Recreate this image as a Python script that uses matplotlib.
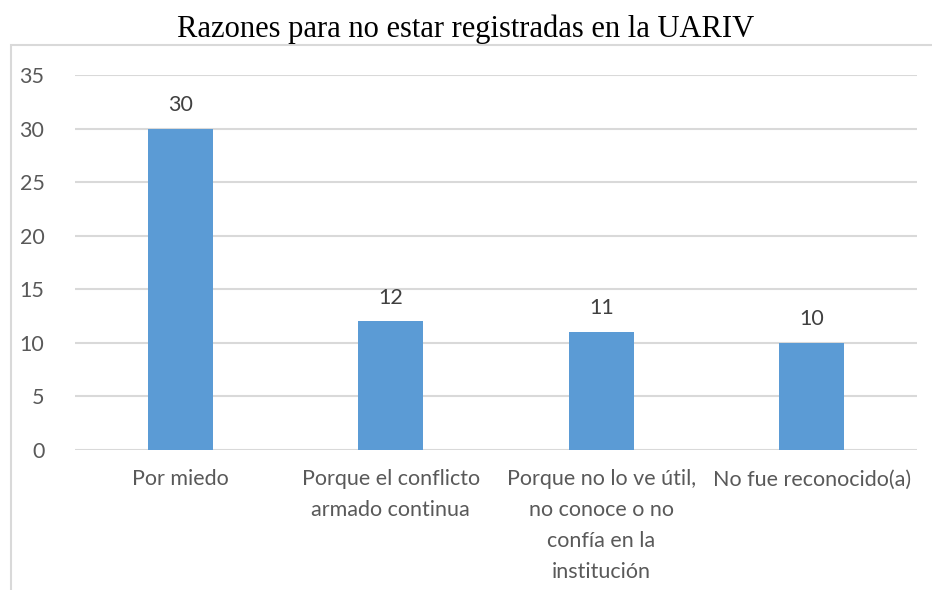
import matplotlib
matplotlib.use("Agg")
import matplotlib.pyplot as plt
from matplotlib.patches import Rectangle

categorias = ["Por miedo",
              "Porque el conflicto\narmado continua",
              "Porque no lo ve útil,\nno conoce o no\nconfía en la\ninstitución",
              "No fue reconocido(a)"]
valores = [30, 12, 11, 10]
yticks = [0, 5, 10, 15, 20, 25, 30, 35]

plt.rcParams['font.family'] = ['Lato', 'DejaVu Sans']

fig = plt.figure(figsize=(9.32, 5.9), dpi=100)
ax = fig.add_axes([75/932, 1 - 450/590, 842/932, 375/590])

# marco del grafico (recortado a la derecha y abajo)
fig.patches.append(Rectangle((11/932, -0.05), 1.0, 1 - 45/590 + 0.05,
                             transform=fig.transFigure, fill=False,
                             edgecolor="#D9D9D9", linewidth=1.5))

x = range(len(categorias))
bars = ax.bar(x, valores, width=0.31, color="#5B9BD5", zorder=3)
for b, v in zip(bars, valores):
    ax.annotate(str(v), (b.get_x() + b.get_width() / 2, v), xytext=(0, 10),
                textcoords="offset points", ha="center", va="bottom",
                fontsize=15.5, color="#404040")

ax.set_xlim(-0.5, len(categorias) - 0.5)
ax.set_ylim(0, 35)
ax.set_yticks(yticks)
ax.set_xticks(list(x))
ax.set_xticklabels(categorias, fontsize=15.5, color="#595959", linespacing=1.68)
ax.tick_params(axis="y", labelsize=15.5, labelcolor="#595959", length=0, pad=22)
ax.tick_params(axis="x", length=0, pad=14)
ax.grid(axis="y", color="#D9D9D9", linewidth=1.5, zorder=0)
for s in ax.spines.values():
    s.set_visible(False)

fig.text(0.5, 1 - 29/590, "Razones para no estar registradas en la UARIV",
         ha="center", va="center", fontsize=22, family="Liberation Serif",
         color="black")

fig.savefig("out.png", dpi=100)
